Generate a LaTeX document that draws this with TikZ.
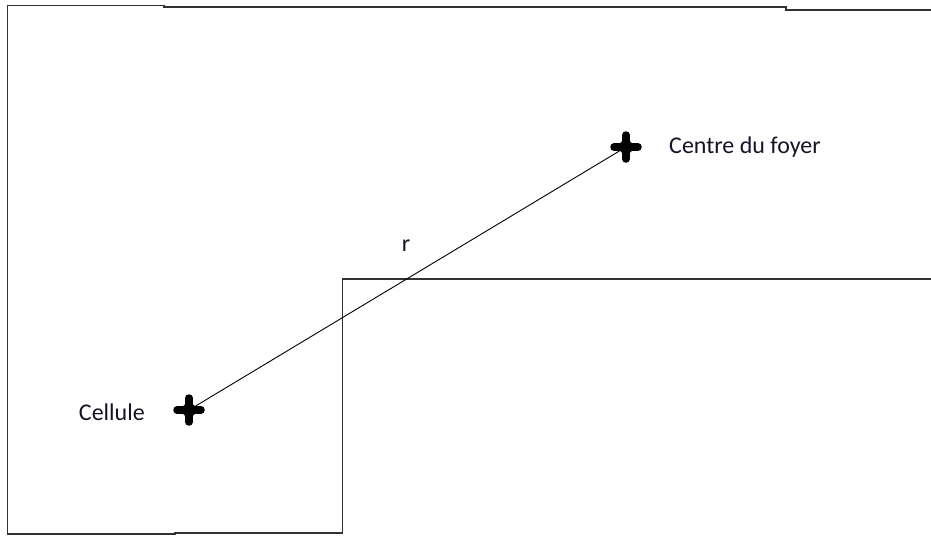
\documentclass[tikz,border=0pt]{standalone}
\usepackage{fontspec}
\setmainfont{Carlito}
\usetikzlibrary{positioning}
\definecolor{edgegray}{RGB}{50,50,50}
\definecolor{textnavy}{RGB}{20,20,40}

\begin{document}
\begin{tikzpicture}[
  x=1pt, y=-1pt,
  node distance=10pt and 26pt,
  outline/.style={draw=edgegray, line width=1.6pt},
  ray/.style={draw=black, line width=0.9pt},
  cross/.style={line width=7.5pt, line cap=round, black},
  lbl/.style={font=\fontsize{24}{28}\selectfont, text=textnavy, inner sep=0pt}
]
\useasboundingbox (0,0) rectangle (931,536);

% region outline
\draw[outline] (931,10) -- (786,10) -- (786,7) -- (164,7) -- (164,5.5) -- (7.5,5.5)
  -- (7.5,534) -- (175,534) -- (175,533) -- (342.5,533) -- (342.5,279) -- (931,279);

% points
\coordinate (foyer) at (626,147);
\coordinate (cellule) at (189,410);

\foreach \p in {foyer, cellule}{
  \draw[cross] ([xshift=-12pt]\p) -- ([xshift=12pt]\p);
  \draw[cross] ([yshift=-12pt]\p) -- ([yshift=12pt]\p);
  \fill[black] (\p) circle (7pt);
}

\draw[ray] (cellule) -- (foyer);

% labels
\node[lbl, anchor=west, right=43pt of foyer] (lfoyer) {Centre du foyer};
\node[lbl, anchor=east, left=44pt of cellule, yshift=-2pt] (lcellule) {Cellule};
\node[lbl] (lr) at (406,246) {r};
\end{tikzpicture}
\end{document}
